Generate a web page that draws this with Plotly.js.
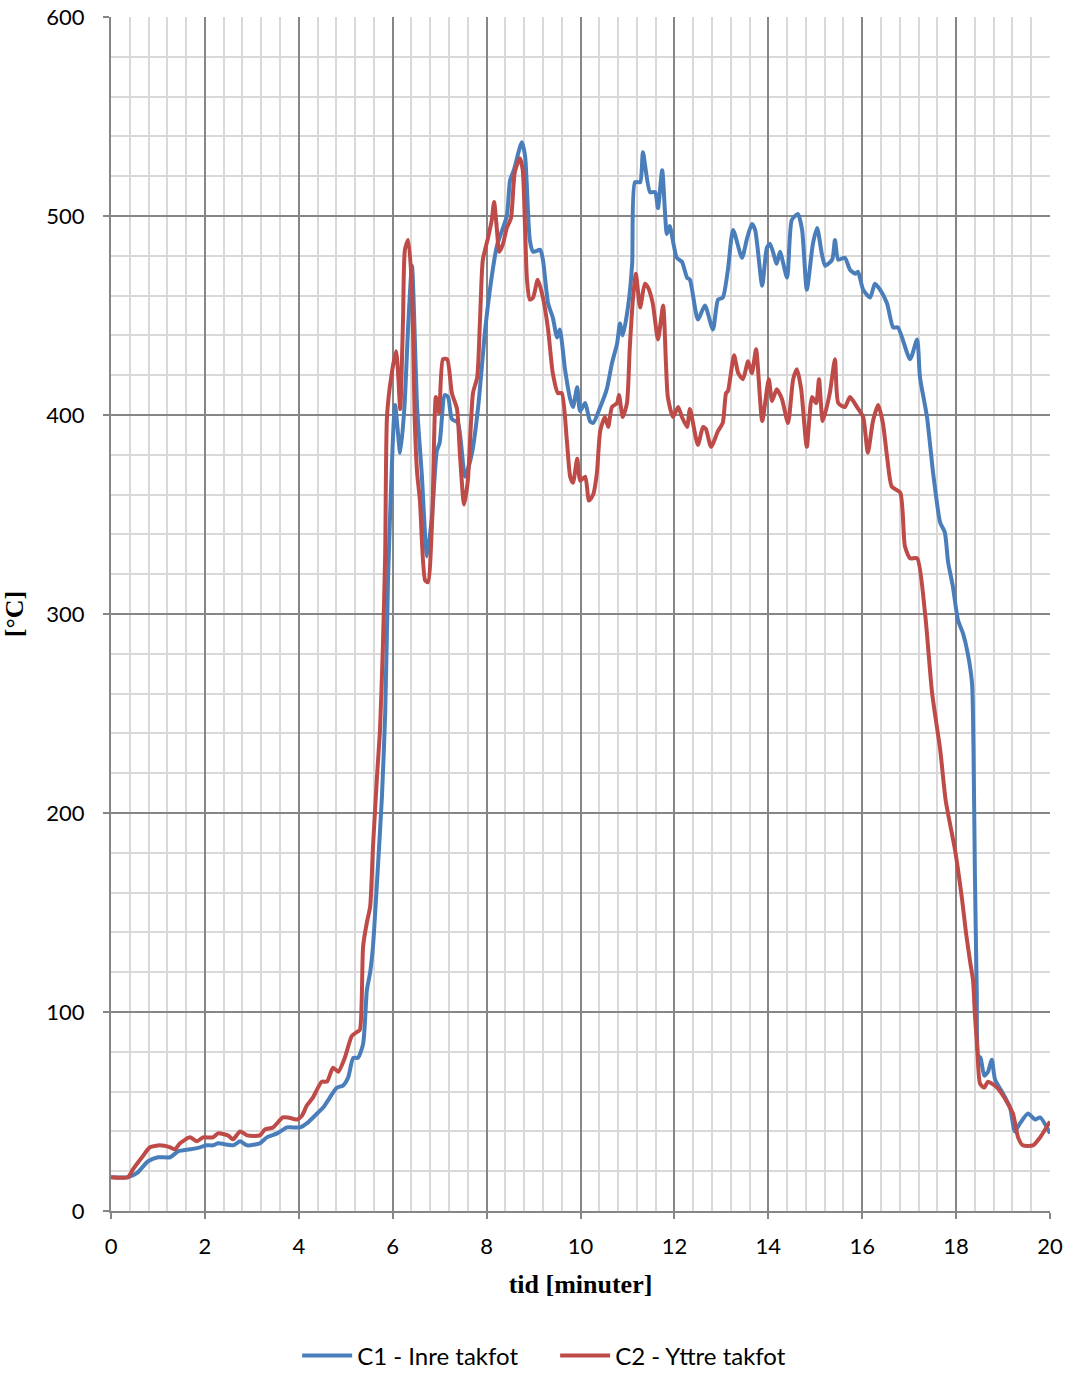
<!DOCTYPE html>
<html>
<head>
<meta charset="utf-8">
<script src="https://cdn.plot.ly/plotly-3.0.1.min.js"></script>
<style>html,body{margin:0;padding:0;background:#fff;}#chart{width:1073px;height:1373px;}</style>
</head>
<body>
<div id="chart"></div>
<script>
// C1 - Inre takfot
const c1Time = [0,0.36,0.55,0.79,1.0,1.26,1.43,1.68,1.9,2.04,2.17,2.28,2.6,2.75,2.9,3.17,3.32,3.54,3.75,3.88,4.03,4.17,4.39,4.52,4.66,4.81,4.94,5.05,5.16,5.26,5.37,5.45,5.52,5.58,5.69,5.77,5.84,5.9,5.96,6.05,6.16,6.25,6.33,6.41,6.52,6.62,6.73,6.84,6.94,7.0,7.11,7.18,7.26,7.39,7.54,7.69,7.82,7.97,8.1,8.22,8.43,8.5,8.58,8.75,8.82,8.92,8.99,9.14,9.2,9.31,9.41,9.5,9.56,9.67,9.78,9.84,9.93,9.99,10.1,10.2,10.27,10.42,10.56,10.67,10.78,10.84,10.9,11.01,11.1,11.16,11.27,11.33,11.48,11.59,11.65,11.74,11.84,11.9,12.05,12.16,12.27,12.33,12.5,12.65,12.82,12.93,13.03,13.14,13.25,13.44,13.55,13.65,13.72,13.87,13.97,14.04,14.18,14.25,14.4,14.5,14.63,14.72,14.82,14.95,15.04,15.14,15.21,15.36,15.42,15.49,15.63,15.74,15.85,15.91,16.02,16.17,16.27,16.38,16.53,16.66,16.76,17.02,17.17,17.23,17.38,17.51,17.66,17.76,17.83,17.93,18.04,18.15,18.25,18.34,18.37,18.4,18.44,18.47,18.52,18.6,18.68,18.76,18.83,19.0,19.15,19.25,19.36,19.53,19.68,19.79,20];
const c1Temp = [17,17,19,25,27,27,30,31,32,33,33,34,33,35,33,34,37,39,42,42,42,44,49,52,57,62,63,67,77,77,84,111,120,133,175,208,250,317,360,405,381,404,445,475,404,370,329,350,382,386,410,409,398,396,369,381,404,443,468,485,500,518,523,537,530,488,482,483,478,456,449,439,443,423,408,404,414,402,406,397,396,404,413,426,436,446,440,454,476,517,517,532,512,512,504,523,491,495,479,477,469,468,448,455,443,458,459,473,493,479,489,496,493,465,484,486,476,482,469,498,501,493,463,486,494,481,475,478,488,478,479,473,471,472,463,459,466,463,456,444,444,428,438,419,399,371,346,341,326,314,297,290,280,265,233,170,110,78,77,68,70,76,66,59,52,40,44,49,46,47,39];

// C2 - Yttre takfot
const c2Time = [0,0.36,0.47,0.66,0.83,1.04,1.26,1.36,1.47,1.68,1.83,1.96,2.17,2.28,2.49,2.6,2.75,2.9,3.17,3.28,3.45,3.66,3.77,3.96,4.07,4.17,4.3,4.49,4.6,4.73,4.84,4.98,5.13,5.24,5.3,5.37,5.45,5.52,5.58,5.67,5.73,5.79,5.84,5.88,5.98,6.07,6.11,6.16,6.22,6.26,6.33,6.41,6.47,6.52,6.58,6.69,6.75,6.84,6.92,6.99,7.07,7.16,7.26,7.37,7.43,7.52,7.6,7.71,7.8,7.86,7.92,8.03,8.11,8.16,8.22,8.27,8.35,8.43,8.52,8.6,8.71,8.77,8.82,8.86,8.92,8.99,9.09,9.2,9.31,9.41,9.52,9.6,9.71,9.78,9.84,9.93,9.99,10.1,10.18,10.27,10.35,10.42,10.52,10.59,10.67,10.78,10.82,10.9,10.99,11.05,11.12,11.18,11.27,11.37,11.44,11.54,11.65,11.76,11.82,11.86,11.97,12.08,12.16,12.27,12.33,12.5,12.61,12.67,12.78,12.93,13.03,13.1,13.14,13.27,13.36,13.46,13.57,13.65,13.74,13.87,14.01,14.08,14.18,14.29,14.42,14.53,14.61,14.7,14.82,14.93,15.02,15.08,15.16,15.31,15.42,15.49,15.63,15.74,15.89,16.02,16.12,16.23,16.34,16.44,16.53,16.63,16.81,16.91,17.02,17.17,17.34,17.49,17.66,17.78,17.98,18.13,18.21,18.3,18.36,18.4,18.45,18.51,18.6,18.68,18.87,19.0,19.1,19.21,19.32,19.42,19.64,19.79,20];
const c2Temp = [17,17,21,27,32,33,32,31,34,37,35,37,37,39,38,36,40,38,38,41,42,47,47,46,48,53,57,65,65,72,70,77,88,90,91,133,145,153,183,220,242,283,330,400,421,432,423,403,448,483,488,464,397,371,357,317,316,347,409,401,428,428,411,403,381,355,367,411,419,448,478,489,498,507,493,482,486,494,499,522,529,523,493,468,458,459,468,459,443,421,411,411,387,369,366,378,367,369,357,360,371,392,399,394,404,406,410,399,406,434,459,471,454,466,464,456,438,455,426,409,399,404,399,394,403,385,394,393,384,392,396,411,412,430,421,418,427,421,433,397,418,407,413,408,396,418,423,413,384,409,406,418,397,411,428,406,404,409,404,399,381,397,405,396,379,364,361,334,328,328,300,260,232,206,181,156,140,125,116,99,82,64,62,65,62,58,54,49,37,33,33,37,45];

const xTicks = [0,2,4,6,8,10,12,14,16,18,20];
const yTicks = [0,100,200,300,400,500,600];

const lineShape = {shape:'spline', smoothing:0.6, width:4};

const traces = [
  {x:c1Time, y:c1Temp, mode:'lines', name:'C1 - Inre takfot',
   line:Object.assign({color:'#4A7EBB'}, lineShape)},
  {x:c2Time, y:c2Temp, mode:'lines', name:'C2 - Yttre takfot',
   line:Object.assign({color:'#BE4B48'}, lineShape)}
];

const tickFont = {family:'Lato, "Liberation Sans", sans-serif', size:22, color:'#000'};

const layout = {
  width:1073, height:1373,
  margin:{l:111, r:23, t:17, b:162, autoexpand:false},
  paper_bgcolor:'#fff', plot_bgcolor:'#fff',
  showlegend:true,
  legend:{orientation:'h', x:0.473, xanchor:'center', y:-0.1214, yanchor:'middle',
          font:{family:'Lato, "Liberation Sans", sans-serif', size:24, color:'#000'},
          itemwidth:50, entrywidth:193},
  xaxis:{
    range:[0,20], tickvals:xTicks, ticktext:xTicks.map(String),
    showgrid:true, gridcolor:'#868686', gridwidth:2,
    minor:{dtick:0.4, tick0:0, showgrid:true, gridcolor:'#D9D9D9', gridwidth:2, ticks:''},
    showline:true, linecolor:'#868686', linewidth:2, mirror:false,
    ticks:'outside', ticklen:6, tickcolor:'#868686', tickwidth:2,
    ticklabelstandoff:9,
    tickfont:tickFont, zeroline:false,
    title:{text:'tid [minuter]', standoff:16,
           font:{family:'"Liberation Serif", "Times New Roman", serif', size:26, color:'#000', weight:'bold'}}
  },
  yaxis:{
    range:[0,600], tickvals:yTicks, ticktext:yTicks.map(String),
    showgrid:true, gridcolor:'#868686', gridwidth:2,
    minor:{dtick:20, tick0:0, showgrid:true, gridcolor:'#D9D9D9', gridwidth:2, ticks:''},
    showline:true, linecolor:'#868686', linewidth:2,
    ticks:'outside', ticklen:6, tickcolor:'#868686', tickwidth:2,
    ticklabelstandoff:14,
    tickfont:tickFont, zeroline:false,
    title:{text:'[°C]', standoff:38,
           font:{family:'"Liberation Serif", "Times New Roman", serif', size:26, color:'#000', weight:'bold'}}
  }
};

Plotly.newPlot('chart', traces, layout, {displayModeBar:false, staticPlot:true});
</script>
</body>
</html>
